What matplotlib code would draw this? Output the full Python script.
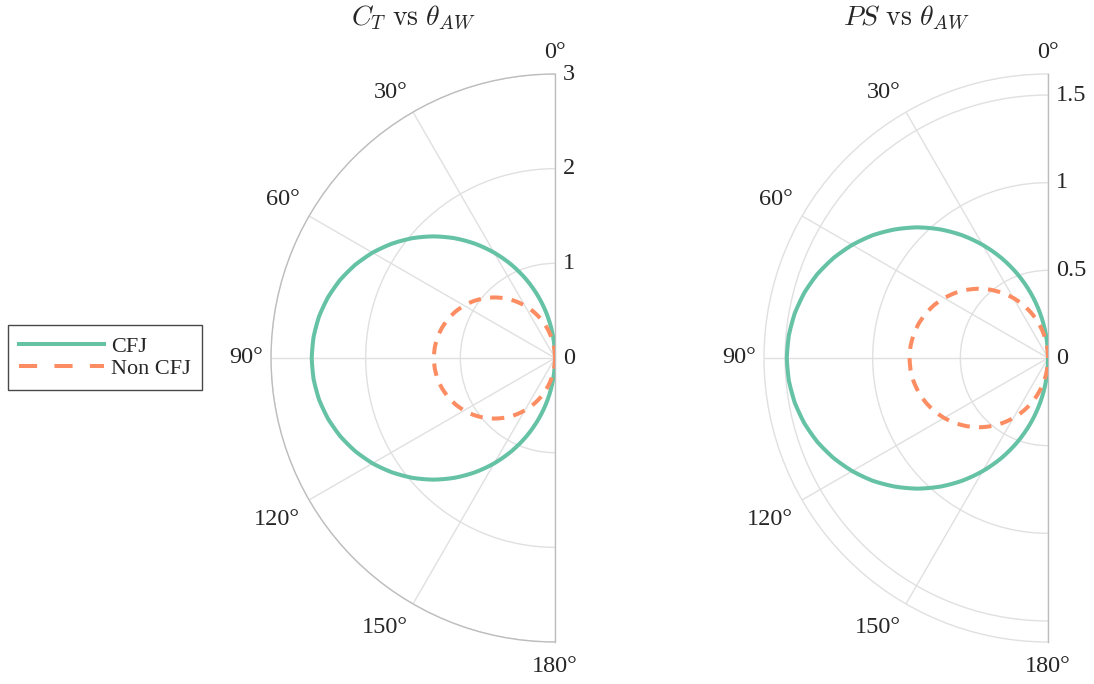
import numpy as np
import matplotlib
matplotlib.use("Agg")
import matplotlib.pyplot as plt
from matplotlib.transforms import offset_copy
from matplotlib.lines import Line2D

plt.rcParams['font.family'] = ['Liberation Serif', 'DejaVu Serif']
plt.rcParams['mathtext.fontset'] = 'cm'

# ---- data ----
theta_deg = [0, 5, 10, 15, 20, 25, 30, 35, 40, 45, 50, 55, 60, 65, 70, 75, 80, 85, 90,
             95, 100, 105, 110, 115, 120, 125, 130, 135, 140, 145, 150, 155, 160, 165, 170, 175, 180]

ct_cfj = [0.000, 0.224, 0.446, 0.665, 0.879, 1.086, 1.285, 1.474, 1.652, 1.817, 1.969, 2.105, 2.226,
          2.329, 2.415, 2.482, 2.531, 2.560, 2.570,
          2.560, 2.531, 2.482, 2.415, 2.329, 2.226, 2.105, 1.969, 1.817, 1.652, 1.474, 1.285,
          1.086, 0.879, 0.665, 0.446, 0.224, 0.000]
ct_noncfj = [0.000, 0.112, 0.222, 0.331, 0.438, 0.541, 0.640, 0.734, 0.823, 0.905, 0.981, 1.049, 1.109,
             1.160, 1.203, 1.236, 1.261, 1.275, 1.280,
             1.275, 1.261, 1.236, 1.203, 1.160, 1.109, 1.049, 0.981, 0.905, 0.823, 0.734, 0.640,
             0.541, 0.438, 0.331, 0.222, 0.112, 0.000]
ps_cfj = [0.000, 0.130, 0.259, 0.386, 0.510, 0.630, 0.745, 0.855, 0.958, 1.054, 1.141, 1.221, 1.290,
          1.350, 1.400, 1.439, 1.467, 1.484, 1.490,
          1.484, 1.467, 1.439, 1.400, 1.350, 1.290, 1.221, 1.141, 1.054, 0.958, 0.855, 0.745,
          0.630, 0.510, 0.386, 0.259, 0.130, 0.000]
ps_noncfj = [0.000, 0.069, 0.137, 0.204, 0.270, 0.334, 0.395, 0.453, 0.508, 0.559, 0.605, 0.647, 0.684,
             0.716, 0.742, 0.763, 0.778, 0.787, 0.790,
             0.787, 0.778, 0.763, 0.742, 0.716, 0.684, 0.647, 0.605, 0.559, 0.508, 0.453, 0.395,
             0.334, 0.270, 0.204, 0.137, 0.069, 0.000]

ct_rticks = [0, 1, 2, 3]
ct_rlabels = ['0', '1', '2', '3']
ct_rmax = 3.0
ps_rticks = [0, 0.5, 1, 1.5]
ps_rlabels = ['0', '0.5', '1', '1.5']
ps_rmax = 1.62

theta_ticks = [0, 30, 60, 90, 120, 150, 180]
series_labels = ['CFJ', 'Non CFJ']
titles = [r'$C_T\ \mathrm{vs}\ \theta_{AW}$', r'$PS\ \mathrm{vs}\ \theta_{AW}$']

GREEN = '#66c2a5'
ORANGE = '#fc8d62'
GRID = '#e0e0e0'
SPINE = '#bdbdbd'
TXT = '#262626'

fig = plt.figure(figsize=(10.94, 6.84), dpi=100)

W, H = 1094, 684
R = 284  # wedge radius in pixels

def ax_rect(cx, cy):
    # half-disc wedge (0..180 deg, CCW from north) is centred in a square box
    x0 = cx - 1.5 * R
    y0 = cy - R
    return [x0 / W, (H - (y0 + 2 * R)) / H, 2 * R / W, 2 * R / H]

ax1 = fig.add_axes(ax_rect(555, 358), projection='polar')
ax2 = fig.add_axes(ax_rect(1048, 358), projection='polar')

configs = [
    (ax1, ct_cfj, ct_noncfj, ct_rticks, ct_rlabels, ct_rmax, titles[0], SPINE),
    (ax2, ps_cfj, ps_noncfj, ps_rticks, ps_rlabels, ps_rmax, titles[1], GRID),
]
LABEL_GAP = 11  # px
FS = 17.5
for ax, cfj, non, rt, rl, rmax, title, outer_col in configs:
    ax.set_theta_zero_location('N')
    ax.set_theta_direction(1)
    ax.set_thetamin(0)
    ax.set_thetamax(180)
    th = np.deg2rad(theta_deg)
    l1, = ax.plot(th, cfj, color=GREEN, lw=2.9, zorder=3)
    l2, = ax.plot(th, non, color=ORANGE, lw=2.9, linestyle=(0, (3.1, 2.3)), zorder=4)
    for ln in (l1, l2):
        ln.get_path()._interpolation_steps = 12   # draw segments as polar arcs
    ax.set_ylim(0, rmax)
    ax.set_yticks(rt)
    ax.set_yticklabels([])
    ax.set_xticks(np.deg2rad(theta_ticks))
    ax.set_xticklabels([])
    ax.grid(True, color=GRID, lw=1.0)
    ax.spines['polar'].set_color(outer_col)
    ax.spines['polar'].set_linewidth(1.0)
    for s in ('start', 'end'):
        ax.spines[s].set_color(SPINE)
        ax.spines[s].set_linewidth(1.0)
    ax.spines['inner'].set_visible(False)

    # radial tick labels to the right of the 0-degree axis
    trans = offset_copy(ax.transData, fig=fig, x=8, y=0, units='dots')
    for r, lab in zip(rt, rl):
        ax.text(0, r, lab, transform=trans, ha='left', va='center',
                fontsize=FS, color=TXT)

    # angular labels placed just outside the outer arc
    for t in theta_ticks:
        rad = np.deg2rad(t)
        dx = -np.sin(rad) * LABEL_GAP
        dy = np.cos(rad) * LABEL_GAP
        if t == 0:
            ha, va = 'center', 'bottom'
        elif t == 180:
            ha, va = 'center', 'top'
            dy -= 3
        elif t < 90:
            ha, va = 'right', 'bottom'
        elif t == 90:
            ha, va = 'right', 'center'
            dx += 3
        else:
            ha, va = 'right', 'top'
            dy -= 4
        tr = offset_copy(ax.transData, fig=fig, x=dx, y=dy, units='dots')
        ax.text(rad, rmax, f'{t}°', transform=tr, ha=ha, va=va,
                fontsize=FS, color=TXT, clip_on=False)

    ax.set_title(title, fontsize=20, y=1.071, x=0.5, color=TXT)

handles = [Line2D([], [], color=GREEN, lw=2.9),
           Line2D([], [], color=ORANGE, lw=2.9, linestyle=(0, (4.5, 4.3)))]
leg = fig.legend(handles, series_labels, loc='center left',
                 bbox_to_anchor=(8 / W, (H - 357.5) / H), fontsize=16,
                 frameon=True, fancybox=False, edgecolor='#1a1a1a',
                 handlelength=3.8, borderpad=0.5, labelspacing=0.05,
                 handletextpad=0.35, borderaxespad=0)
leg.get_frame().set_linewidth(1.0)
for t in leg.get_texts():
    t.set_color(TXT)

fig.savefig('out.png', dpi=100)
